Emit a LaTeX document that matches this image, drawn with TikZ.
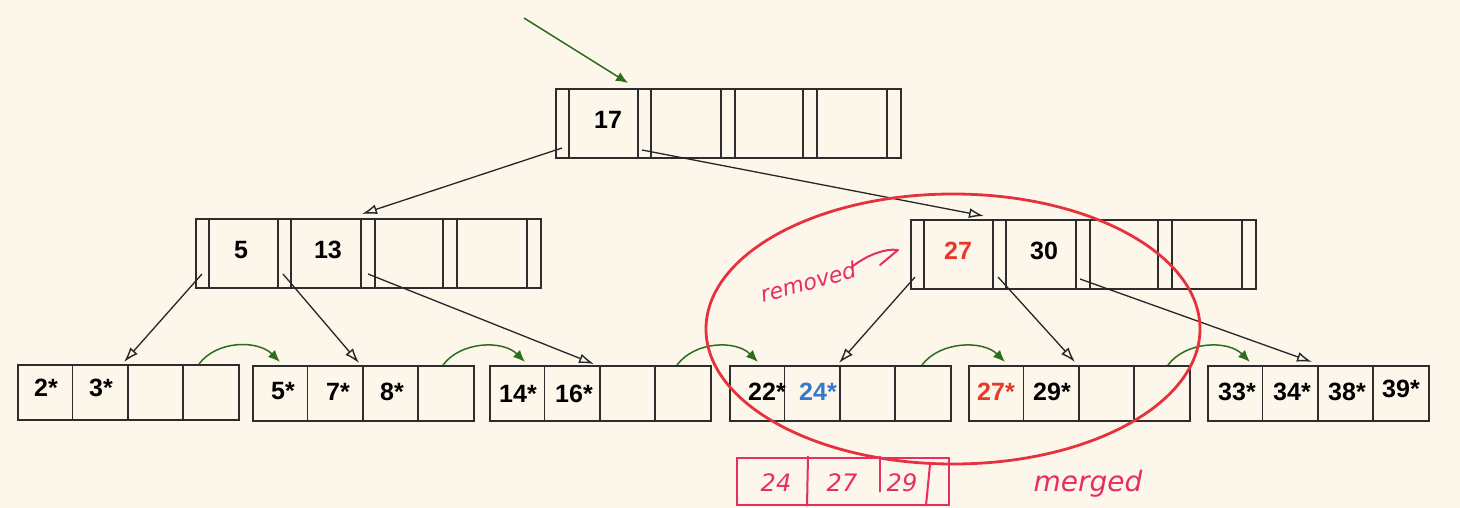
\documentclass[tikz,border=0pt]{standalone}
\usepackage{fontspec}
\setmainfont{Liberation Sans}
\newfontfamily\handfont{DejaVu Sans}
\usetikzlibrary{arrows.meta}
\definecolor{bg}{RGB}{253,246,234}
\definecolor{boxline}{RGB}{45,45,45}
\definecolor{ptrgreen}{RGB}{45,110,30}
\definecolor{ellred}{RGB}{230,50,60}
\definecolor{hand}{RGB}{230,45,100}
\definecolor{keyred}{RGB}{235,55,40}
\definecolor{keyblue}{RGB}{55,120,205}
\tikzset{
  inode/.style={draw=boxline, line width=1.8pt, minimum width=345pt, minimum height=69pt, anchor=north west, inner sep=0pt},
  leafbox/.style={draw=boxline, line width=1.9pt, minimum width=221pt, minimum height=55pt, anchor=north west, inner sep=0pt},
  cellline/.style={draw=boxline, line width=1.8pt},
  keytext/.style={font=\fontsize{25}{30}\selectfont\bfseries, inner sep=0pt},
  ptr/.style={draw=black!85, line width=1.3pt, -{Latex[open,length=15pt,width=10pt,fill=bg,line width=1.4pt]}},
  nextptr/.style={draw=ptrgreen, line width=1.5pt, -{Latex[length=12pt,width=10pt]}},
  handtext/.style={text=hand, font=\handfont\itshape\fontsize{24}{28}\selectfont, inner sep=0pt},
  handline/.style={draw=hand, line width=2pt, line cap=round, line join=round},
}
\begin{document}
\begin{tikzpicture}[x=1pt,y=-1pt]
\fill[bg] (0,0) rectangle (1460,508);
\useasboundingbox (0,0) rectangle (1460,508);

% internal nodes
\node[inode] (root) at (555,88) {};
\node[inode] (midL) at (195,218) {};
\node[inode] (midR) at (910,219) {};
\foreach \n in {root,midL,midR}{
  \foreach \o in {14,96,180,262}{
    \draw[cellline] ([xshift=\o pt]\n.north west) -- ([xshift=\o pt]\n.south west);
  }
  \foreach \o in {83,166,248,332}{
    \draw[boxline, line width=2.4pt] ([xshift=\o pt]\n.north west) -- ([xshift=\o pt]\n.south west);
  }
}
\node[keytext] (k17) at ([xshift=53pt,yshift=3pt]root.west) {17};
\node[keytext] (k5)  at ([xshift=46pt,yshift=3pt]midL.west) {5};
\node[keytext] (k13) at ([xshift=133pt,yshift=3pt]midL.west) {13};
\node[keytext, text=keyred] (k27) at ([xshift=48pt,yshift=4pt]midR.west) {27};
\node[keytext] (k30) at ([xshift=134pt,yshift=3pt]midR.west) {30};

% leaves
\node[leafbox] (L1) at (17,364) {};
\node[leafbox] (L2) at (252,365) {};
\node[leafbox] (L3) at (489,365) {};
\node[leafbox] (L4) at (729,365) {};
\node[leafbox] (L5) at (968,365) {};
\node[leafbox] (L6) at (1207,365) {};
\foreach \n in {L1,L2,L3,L4,L5,L6}{
  \foreach \o in {55.5,111,166}{
    \draw[cellline] ([xshift=\o pt]\n.north west) -- ([xshift=\o pt]\n.south west);
  }
}
\tikzset{lt/.style={keytext}}
\node[lt] (t2)  at ([xshift=29pt,yshift=5pt]L1.west) {2*};
\node[lt] (t3)  at ([xshift=84pt,yshift=5pt]L1.west) {3*};
\node[lt] (t5)  at ([xshift=31pt,yshift=2pt]L2.west) {5*};
\node[lt] (t7)  at ([xshift=86pt,yshift=2pt]L2.west) {7*};
\node[lt] (t8)  at ([xshift=140pt,yshift=2pt]L2.west) {8*};
\node[lt] (t14) at ([xshift=29pt,yshift=0pt]L3.west) {14*};
\node[lt] (t16) at ([xshift=85pt,yshift=0pt]L3.west) {16*};
\node[lt] (t22) at ([xshift=38pt,yshift=2pt]L4.west) {22*};
\node[lt, text=keyblue] (t24) at ([xshift=89pt,yshift=2pt]L4.west) {24*};
\node[lt, text=keyred] (t27) at ([xshift=28pt,yshift=2pt]L5.west) {27*};
\node[lt] (t29) at ([xshift=84pt,yshift=2pt]L5.west) {29*};
\node[lt] (t33) at ([xshift=30pt,yshift=2pt]L6.west) {33*};
\node[lt] (t34) at ([xshift=85pt,yshift=2pt]L6.west) {34*};
\node[lt] (t38) at ([xshift=140pt,yshift=2pt]L6.west) {38*};
\node[lt] (t39) at ([xshift=194pt,yshift=5pt]L6.west) {39*};

% pointer start points
\coordinate (root-p0) at ([shift={(7,60)}]root.north west);
\coordinate (root-p1) at ([shift={(87,62)}]root.north west);
\coordinate (midL-p0) at ([shift={(7,56)}]midL.north west);
\coordinate (midL-p1) at ([shift={(88,56)}]midL.north west);
\coordinate (midL-p2) at ([shift={(173,56)}]midL.north west);
\coordinate (midR-p0) at ([shift={(5,58)}]midR.north west);
\coordinate (midR-p1) at ([shift={(88,58)}]midR.north west);
\coordinate (midR-p2) at ([shift={(170,60)}]midR.north west);
\coordinate (rootin) at (524,18);

\draw[nextptr] (rootin) -- ([shift={(73,-5)}]root.north west);
\draw[ptr] (root-p0) -- ([shift={(167,-4)}]midL.north west);
\draw[ptr] (root-p1) -- ([shift={(74,-3)}]midR.north west);
\draw[ptr] (midL-p0) -- ([shift={(107,-2)}]L1.north west);
\draw[ptr] (midL-p1) -- ([shift={(107,-2)}]L2.north west);
\draw[ptr] (midL-p2) -- ([shift={(105,-1)}]L3.north west);
\draw[ptr] (midR-p0) -- ([shift={(110,-2)}]L4.north west);
\draw[ptr] (midR-p1) -- ([shift={(107,-3)}]L5.north west);
\draw[ptr] (midR-p2) -- ([shift={(105,-3)}]L6.north west);

% sibling links
\foreach \a/\b/\s/\e in {L1/L2/182/28, L2/L3/191/36, L3/L4/188/29, L4/L5/193/37, L5/L6/200/43}{
  \draw[nextptr] ([xshift=\s pt]\a.north west) .. controls +(18,-24) and +(-22,-22) .. ([shift={(\e,-3)}]\b.north west);
}

% red ellipse
\draw[ellred, line width=2.8pt] (953,329) ellipse [x radius=247, y radius=135];

% handwriting
\node[handtext, rotate=15, font=\handfont\itshape\fontsize{22}{26}\selectfont] (rm) at (808,282) {removed};
\draw[handline] ([shift={(-4,-2)}]rm.east) .. controls (865,256) and (885,248) .. (898,250) -- (880,265);

\node[draw=hand, line width=2pt, minimum width=212pt, minimum height=47pt, inner sep=0pt] (mbox) at (843,481) {};
\node[handtext] (m24) at (776,483) {24};
\node[handtext] (m27) at (842,483) {27};
\node[handtext] (m29) at (902,483) {29};
\draw[handline] ([xshift=-35pt]mbox.north) -- ([xshift=-36pt]mbox.south);
\draw[handline] ([xshift=37pt]mbox.north) -- ([xshift=37pt,yshift=14pt]mbox.south);
\draw[handline] ([xshift=87pt,yshift=-8pt]mbox.north) -- ([xshift=83pt]mbox.south);
\node[handtext, font=\handfont\itshape\fontsize{28}{32}\selectfont] (mg) at (1088,484) {merged};
\end{tikzpicture}
\end{document}
